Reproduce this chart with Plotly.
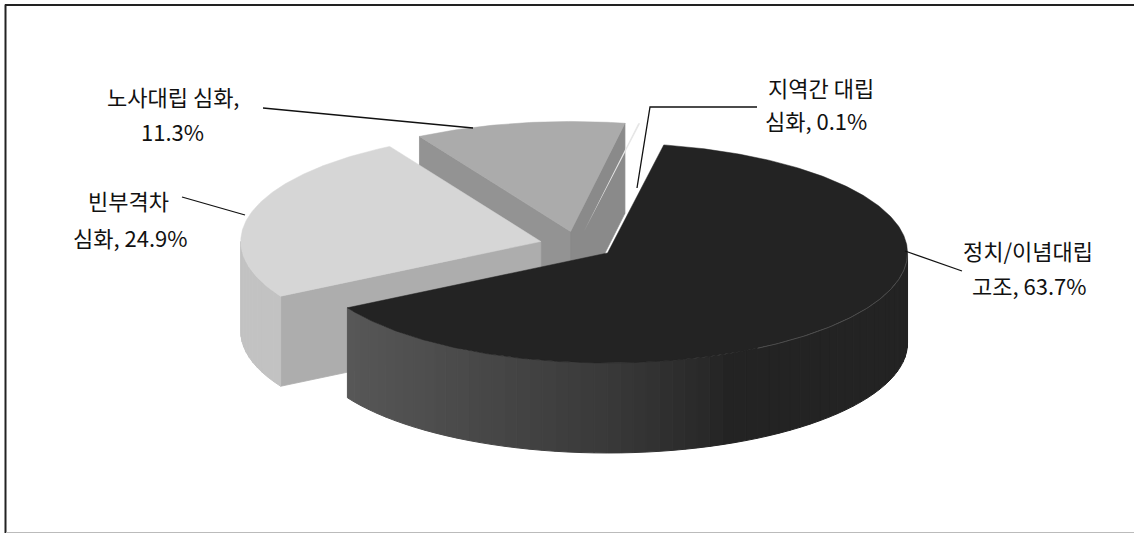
import numpy as np
import plotly.graph_objects as go

# ---- data -------------------------------------------------------------
categories = ["정치/이념대립 고조", "빈부격차 심화", "노사대립 심화", "지역간 대립 심화"]
values = [63.7, 24.9, 11.3, 0.1]
label_break = [1, 1, 2, 2]          # words kept on the first label line

# ---- styling ----------------------------------------------------------
top_colors = ["#232323", "#d6d6d6", "#ababab", "#e6e6e6"]
start_face_colors = ["#3a3a3a", "#adadad", "#939393", "#8a8a8a"]
end_face_colors = ["#3a3a3a", "#a0a0a0", "#8a8a8a", "#8a8a8a"]
# side shading: (x stops, grey levels)
side_shades = [
    ([348, 600, 700, 730], [87, 58, 42, 35]),
    ([0, 1134], [194, 194]),
    ([0, 1134], [150, 150]),
    ([0, 1134], [140, 140]),
]
label_pos = [((1028, 250), (1029, 285)),
             ((128, 200), (130, 237)),
             ((173, 96), (172, 131)),
             ((821, 87), (816, 120))]
leaders = [
    [(905, 251), (962, 271)],
    [(182, 197), (245, 215)],
    [(263, 108), (473, 128)],
    [(757, 107), (650, 107), (637, 188)],
]

W, H = 1134, 534
CX, CY = 577, 245          # pie centre (px)
RX, RY = 300, 110          # ellipse radii of the top face
DEPTH = 90                 # pie thickness
EXPLODE = 0.125            # radial offset of each slice, fraction of radius
START = 10.8               # first slice starts here (deg, clockwise from 12 o'clock)
MIN_FACE_SPAN = 1.0        # slices thinner than this (deg) get no cut faces / outline


def pt(theta, c, z=0.0):
    t = np.radians(theta)
    return c[0] + RX * np.sin(t), c[1] - RY * np.cos(t) + z


def arc(t0, t1, c, z=0.0, n=None):
    n = n or max(3, int(abs(t1 - t0) * 1.5))
    ts = np.linspace(t0, t1, n)
    xs, ys = pt(ts, c, z)
    return list(xs), list(ys)


def grey(v):
    v = int(round(v))
    return f"rgb({v},{v},{v})"


def poly(fig, xs, ys, color, lw=0.8):
    fig.add_trace(go.Scatter(
        x=list(xs) + [xs[0]], y=list(ys) + [ys[0]], mode="lines",
        fill="toself", fillcolor=color,
        line=dict(color=color, width=lw) if lw > 0 else dict(width=0),
        hoverinfo="skip", showlegend=False))


total = sum(values)
spans = [360.0 * v / total for v in values]
starts = list(START + np.concatenate([[0], np.cumsum(spans)[:-1]]))

slices = []
for i, (s, sp) in enumerate(zip(starts, spans)):
    e = s + sp
    mid = s + sp / 2
    c = (CX + EXPLODE * RX * np.sin(np.radians(mid)),
         CY - EXPLODE * RY * np.cos(np.radians(mid)))
    slices.append(dict(i=i, s=s, e=e, mid=mid, c=c))

fig = go.Figure()

# back-to-front drawing order
for sl in sorted(slices, key=lambda d: -np.cos(np.radians(d["mid"]))):
    i, s, e, c = sl["i"], sl["s"], sl["e"], sl["c"]
    thin = (e - s) < MIN_FACE_SPAN

    # radial cut faces that face the viewer
    if not thin:
        for edge, normal, col in ((s, s - 90, start_face_colors[i]),
                                  (e, e + 90, end_face_colors[i])):
            if np.cos(np.radians(normal)) < 0:
                ex, ey = pt(edge, c)
                poly(fig, [c[0], ex, ex, c[0]],
                     [c[1], ey, ey + DEPTH, c[1] + DEPTH], col)

    # curved outer wall on the front half
    for k in range(-1, 3):
        lo, hi = max(s, 90 + 360 * k), min(e, 270 + 360 * k)
        if hi - lo <= 0.05:
            continue
        xs_stop, lv = side_shades[i]
        n = max(2, int((hi - lo) / 2.5) + 1)
        edges = np.linspace(lo, hi, n)
        for a0, a1 in zip(edges[:-1], edges[1:]):
            tx, ty = arc(a0, a1, c, 0, 4)
            bx, by = arc(a1, a0, c, DEPTH, 4)
            xm = pt((a0 + a1) / 2, c)[0]
            col = grey(np.interp(xm, xs_stop, lv))
            poly(fig, tx + bx, ty + by, col, lw=1.0)

    # top face
    ax, ay = arc(s, e, c)
    poly(fig, [c[0]] + ax, [c[1]] + ay, top_colors[i], lw=0 if thin else 0.5)

# faint highlight along the rim of the large dark slice
d0 = slices[0]
hx, hy = arc(90, 150, d0["c"])
fig.add_trace(go.Scatter(x=hx, y=hy, mode="lines",
                         line=dict(color="#6a6a6a", width=0.6),
                         hoverinfo="skip", showlegend=False))

# leader lines
for pts in leaders:
    fig.add_trace(go.Scatter(x=[p[0] for p in pts], y=[p[1] for p in pts],
                             mode="lines", line=dict(color="#111111", width=1.3),
                             hoverinfo="skip", showlegend=False))

# labels
font = dict(family="Noto Sans CJK KR, Noto Sans, sans-serif", size=22, color="#111111")
annotations = []
for cat, val, brk, (p1, p2) in zip(categories, values, label_break, label_pos):
    words = f"{cat}, {val:.1f}%".split(" ")
    line1, line2 = " ".join(words[:brk]), " ".join(words[brk:])
    for txt, (x, y) in ((line1, p1), (line2, p2)):
        annotations.append(dict(x=x, y=y, xref="x", yref="y", text=txt,
                                showarrow=False, xanchor="center",
                                yanchor="middle", font=font))

# frame
shapes = [
    dict(type="line", xref="x", yref="y", x0=5.5, y0=4.5, x1=5.5, y1=533,
         line=dict(color="#222222", width=2)),
    dict(type="line", xref="x", yref="y", x0=5, y0=5, x1=1134, y1=5,
         line=dict(color="#222222", width=2)),
    dict(type="line", xref="x", yref="y", x0=6, y0=532.5, x1=1134, y1=532.5,
         line=dict(color="#bbbbbb", width=1)),
]

fig.update_layout(
    width=W, height=H,
    margin=dict(l=0, r=0, t=0, b=0),
    paper_bgcolor="white", plot_bgcolor="white",
    xaxis=dict(range=[0, W], visible=False, fixedrange=True),
    yaxis=dict(range=[H, 0], visible=False, fixedrange=True),
    annotations=annotations, shapes=shapes, showlegend=False,
)

fig.write_html("out.html")
